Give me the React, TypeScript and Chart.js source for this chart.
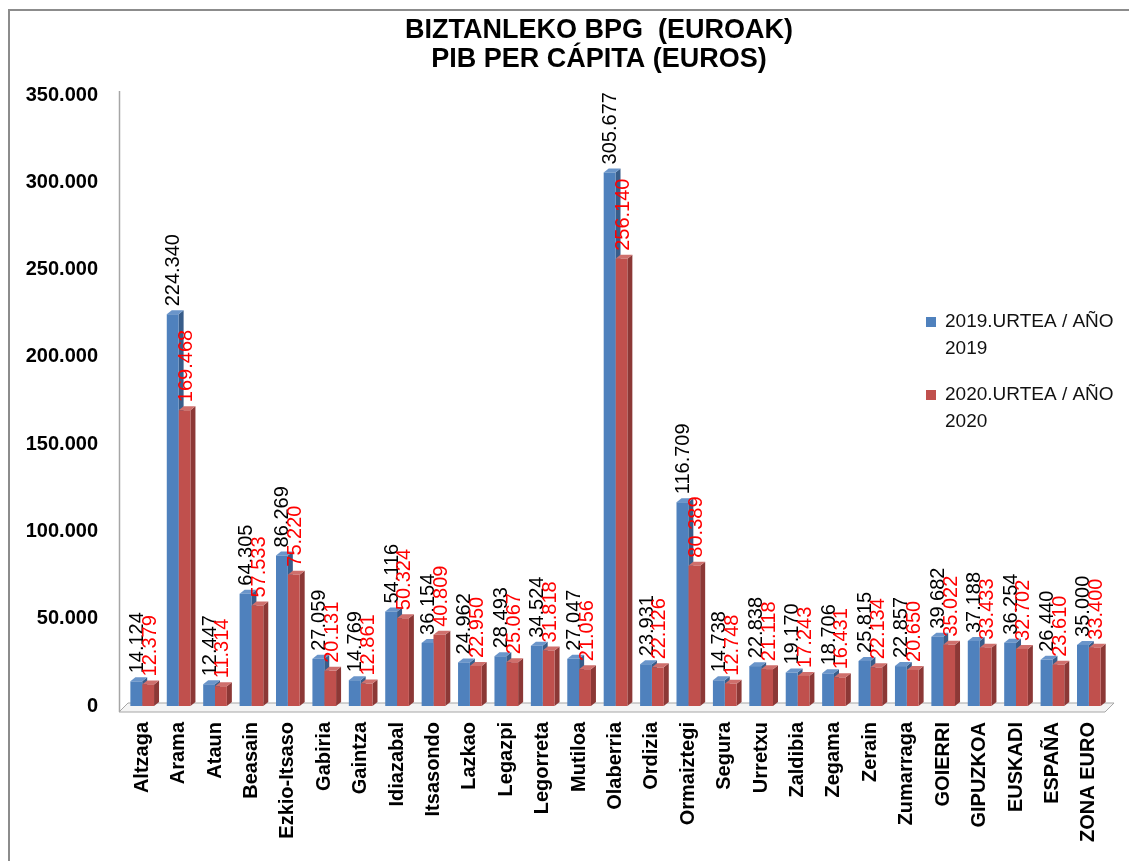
import React, { useEffect, useRef } from "react";
import { Chart, registerables } from "chart.js";

Chart.register(...registerables);

const titleLines = ["BIZTANLEKO BPG  (EUROAK)", "PIB PER CÁPITA (EUROS)"];

const categories = [
  "Altzaga", "Arama", "Ataun", "Beasain", "Ezkio-Itsaso", "Gabiria", "Gaintza",
  "Idiazabal", "Itsasondo", "Lazkao", "Legazpi", "Legorreta", "Mutiloa", "Olaberria",
  "Ordizia", "Ormaiztegi", "Segura", "Urretxu", "Zaldibia", "Zegama", "Zerain",
  "Zumarraga", "GOIERRI", "GIPUZKOA", "EUSKADI", "ESPAÑA", "ZONA EURO",
];

const values2019 = [
  14124, 224340, 12447, 64305, 86269, 27059, 14769, 54116, 36154, 24962, 28493,
  34524, 27047, 305677, 23931, 116709, 14738, 22838, 19170, 18706, 25815, 22857,
  39682, 37188, 36254, 26440, 35000,
];

const values2020 = [
  12379, 169468, 11314, 57533, 75220, 20131, 12861, 50324, 40809, 22950, 25067,
  31818, 21056, 256140, 22126, 80389, 12748, 21118, 17243, 16431, 22134, 20650,
  35022, 33433, 32702, 23610, 33400,
];

const seriesNames = ["2019.URTEA / AÑO 2019", "2020.URTEA / AÑO 2020"];
const legendLines = [
  ["2019.URTEA / AÑO", "2019"],
  ["2020.URTEA / AÑO", "2020"],
];

const yMin = 0;
const yMax = 350000;
const yStep = 50000;

const FRONT = ["#4F81BD", "#C0504D"];
const SIDE = ["#385D8A", "#8C3836"];
const TOP = ["#6A95CA", "#CF6F6C"];
const LABEL_COLORS = ["#000000", "#FF0000"];
const FONT = '"Liberation Sans", Arial, sans-serif';

const fmt = (v: number) =>
  Math.round(v).toString().replace(/\B(?=(\d{3})+(?!\d))/g, ".");

const threeD = {
  id: "threeD",
  beforeDatasetsDraw(chart: any) {
    const ctx = chart.ctx;
    const { left, right, bottom, top } = chart.chartArea;
    ctx.save();
    // floor
    ctx.beginPath();
    ctx.moveTo(left - 5, bottom + 6);
    ctx.lineTo(right - 2, bottom + 6);
    ctx.lineTo(right + 7, bottom - 3);
    ctx.lineTo(left + 4, bottom - 3);
    ctx.closePath();
    ctx.fillStyle = "#F4F4F4";
    ctx.fill();
    ctx.strokeStyle = "#A6A6A6";
    ctx.lineWidth = 1;
    ctx.stroke();
    // wall line
    ctx.beginPath();
    ctx.moveTo(left - 5 + 0.5, top - 4);
    ctx.lineTo(left - 5 + 0.5, bottom + 6);
    ctx.strokeStyle = "#A6A6A6";
    ctx.lineWidth = 1.5;
    ctx.stroke();

    const d = 5;
    const dy = 4;
    chart.data.datasets.forEach((_ds: any, di: number) => {
      const meta = chart.getDatasetMeta(di);
      meta.data.forEach((bar: any) => {
        const { x, y, base, width } = bar.getProps(["x", "y", "base", "width"], true);
        const l = x - width / 2;
        const r = x + width / 2;
        ctx.beginPath();
        ctx.moveTo(r, y);
        ctx.lineTo(r + d, y - dy);
        ctx.lineTo(r + d, base - dy);
        ctx.lineTo(r, base);
        ctx.closePath();
        ctx.fillStyle = SIDE[di];
        ctx.fill();
        ctx.beginPath();
        ctx.moveTo(l, y);
        ctx.lineTo(l + d, y - dy);
        ctx.lineTo(r + d, y - dy);
        ctx.lineTo(r, y);
        ctx.closePath();
        ctx.fillStyle = TOP[di];
        ctx.fill();
      });
    });
    ctx.restore();
  },
  afterDatasetsDraw(chart: any) {
    const ctx = chart.ctx;
    ctx.save();
    ctx.font = `20px ${FONT}`;
    ctx.textAlign = "left";
    ctx.textBaseline = "middle";
    chart.data.datasets.forEach((ds: any, di: number) => {
      const meta = chart.getDatasetMeta(di);
      meta.data.forEach((bar: any, i: number) => {
        const { x, y } = bar.getProps(["x", "y"], true);
        ctx.save();
        ctx.translate(x + (di === 0 ? 1 : 2), y - 8);
        ctx.rotate(-Math.PI / 2);
        ctx.fillStyle = LABEL_COLORS[di];
        ctx.fillText(fmt(ds.data[i]), 0, 0);
        ctx.restore();
      });
    });
    ctx.restore();
  },
  afterDraw(chart: any) {
    const ctx = chart.ctx;
    ctx.save();
    // title
    ctx.font = `bold 27px ${FONT}`;
    ctx.textAlign = "center";
    ctx.textBaseline = "middle";
    ctx.fillStyle = "#000";
    ctx.fillText(titleLines[0], 599, 31);
    ctx.fillText(titleLines[1], 599, 60);
    // legend
    ctx.font = `19px ${FONT}`;
    ctx.textAlign = "left";
    ctx.textBaseline = "middle";
    const ys = [322, 395];
    legendLines.forEach((lines, i) => {
      ctx.fillStyle = FRONT[i];
      ctx.fillRect(926, ys[i] - 5, 10, 10);
      ctx.fillStyle = "#111111";
      lines.forEach((t, j) => ctx.fillText(t, 945, ys[i] + j * 27));
    });
    // outer frame
    ctx.beginPath();
    ctx.moveTo(9, 861);
    ctx.lineTo(9, 10);
    ctx.lineTo(1129, 10);
    ctx.strokeStyle = "#8C8C8C";
    ctx.lineWidth = 2;
    ctx.stroke();
    ctx.restore();
  },
};

export default function App() {
  const ref = useRef<HTMLCanvasElement | null>(null);
  useEffect(() => {
    if (!ref.current) return;
    const chart = new Chart(ref.current, {
      type: "bar",
      data: {
        labels: categories,
        datasets: [
          {
            label: seriesNames[0],
            data: values2019,
            backgroundColor: FRONT[0],
            categoryPercentage: 0.65,
            barPercentage: 1,
          },
          {
            label: seriesNames[1],
            data: values2020,
            backgroundColor: FRONT[1],
            categoryPercentage: 0.65,
            barPercentage: 1,
          },
        ],
      },
      options: {
        responsive: false,
        animation: false,
        layout: { padding: { left: 14, right: 9, top: 95, bottom: 0 } },
        plugins: {
          legend: { display: false },
          tooltip: { enabled: false },
          title: { display: false },
        },
        scales: {
          x: {
            grid: { display: false, drawTicks: false },
            border: { display: false },
            ticks: {
              minRotation: 90,
              maxRotation: 90,
              autoSkip: false,
              padding: 16,
              color: "#000",
              font: { family: FONT, size: 20, weight: "bold" },
            },
            afterFit: (s: any) => {
              s.height = 155;
            },
          },
          y: {
            min: yMin,
            max: yMax,
            grid: { display: false, drawTicks: false },
            border: { display: false },
            ticks: {
              stepSize: yStep,
              padding: 26,
              color: "#000",
              font: { family: FONT, size: 20, weight: "bold" },
              callback: (v: any) => fmt(Number(v)),
            },
            afterFit: (s: any) => {
              s.width = 110;
            },
          },
        },
      },
      plugins: [threeD],
    });
    return () => chart.destroy();
  }, []);
  return (
    <div style={{ position: "absolute", left: 0, top: 0, width: 1129, height: 861, background: "#fff" }}>
      <canvas ref={ref} width={1129} height={861} />
    </div>
  );
}
